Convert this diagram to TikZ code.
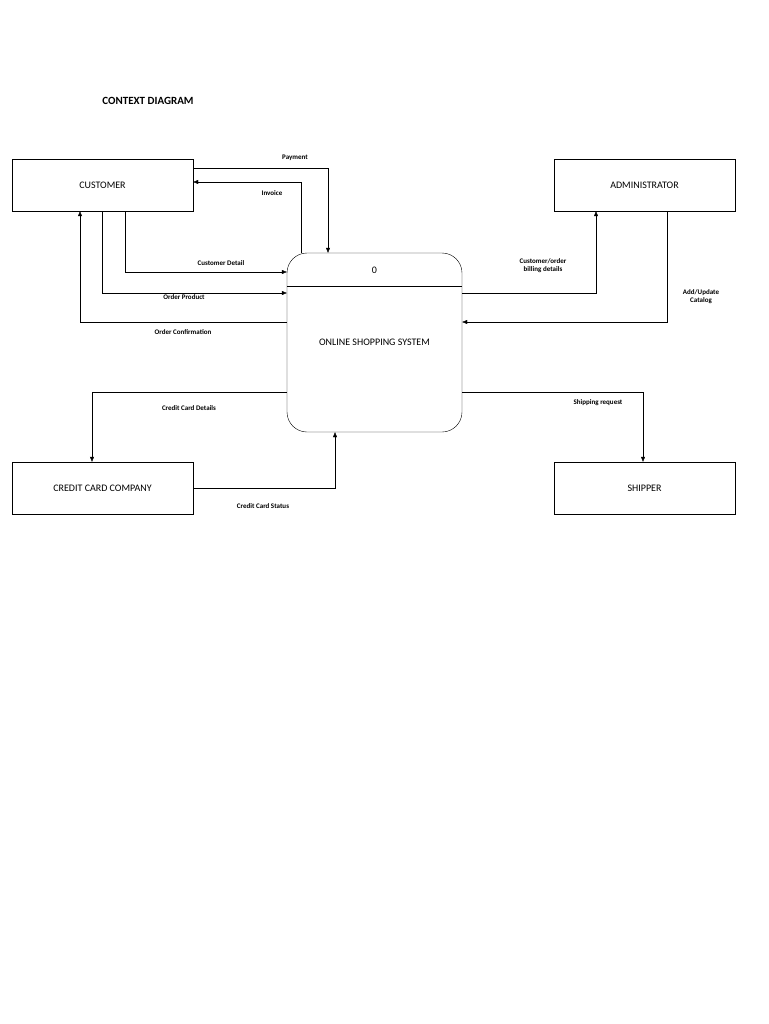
\documentclass[tikz,border=0pt]{standalone}
\usepackage{fontspec}
\setmainfont{Carlito}
\usetikzlibrary{arrows.meta,positioning,calc}
\begin{document}
\begin{tikzpicture}[x=1pt, y=-1pt, >={Triangle[length=5pt,width=4pt]}, thin]
\tikzstyle{entity}=[draw=black,minimum width=181pt,minimum height=52pt,font=\fontsize{10}{12}\selectfont]
\tikzstyle{flow}=[font=\fontsize{7}{8}\selectfont\bfseries,align=center]
\useasboundingbox (0,0) rectangle (768,1024);
\node[font=\fontsize{11}{13}\selectfont\bfseries] (title) at (148,101) {CONTEXT DIAGRAM};
\node[entity] (cust) at (102.5,185) {CUSTOMER};
\node[entity] (adm)  at (644.5,185) {ADMINISTRATOR};
\node[entity] (ccc)  at (102.5,488) {CREDIT CARD COMPANY};
\node[entity] (ship) at (644.5,488) {SHIPPER};
\node[draw=black,rounded corners=20pt,minimum width=175pt,minimum height=179pt] (proc) at (374.5,342.5) {};
\draw ([yshift=-33]proc.north west) -- ([yshift=-33]proc.north east);
\node[font=\fontsize{10}{12}\selectfont] (zero) at (374.5,270) {0};
\node[font=\fontsize{10}{12}\selectfont] (name) at (374.5,342) {ONLINE SHOPPING SYSTEM};
% flows
\draw[->] ([yshift=17]cust.east) -| ([xshift=-46.5]proc.north);
\draw[->] ([xshift=-73.5]proc.north) |- ([yshift=3]cust.east);
\draw[->] ([xshift=22.5]cust.south) |- ([yshift=70.5]proc.west);
\draw[->] (cust.south) |- ([yshift=49.5]proc.west);
\draw[->] ([yshift=20.5]proc.west) -| ([xshift=-22.5]cust.south);
\draw[->] ([yshift=49.5]proc.east) -| ([xshift=-48.5]adm.south);
\draw[->] ([xshift=22.5]adm.south) |- ([yshift=20.5]proc.east);
\draw[->] ([yshift=-49.5]proc.west) -| ([xshift=-10.5]ccc.north);
\draw[->] (ccc.east) -| ([xshift=-39.5]proc.south);
\draw[->] ([yshift=-49.5]proc.east) -| ([xshift=-1.5]ship.north);
% labels
\node[flow] (l1) at (295,158) {Payment};
\node[flow] (l2) at (272,193) {Invoice};
\node[flow] (l3) at (221,263) {Customer Detail};
\node[flow] (l4) at (184,297) {Order Product};
\node[flow] (l5) at (183,332) {Order Confirmation};
\node[flow] (l6) at (543,266) {Customer/order\\billing details};
\node[flow] (l7) at (701,297) {Add/Update\\Catalog};
\node[flow] (l8) at (189,408) {Credit Card Details};
\node[flow] (l9) at (263,506) {Credit Card Status};
\node[flow] (l10) at (598,403) {Shipping request};
\end{tikzpicture}
\end{document}
